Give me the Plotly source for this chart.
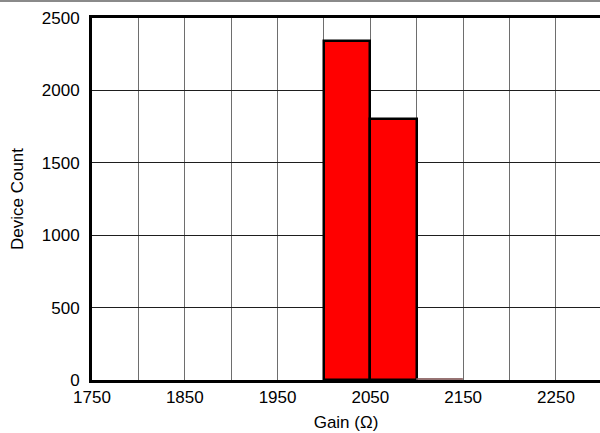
import plotly.graph_objects as go

# Histogram bins (lower edge, upper edge) and device counts
bin_lo = [2000, 2050, 2100]
bin_hi = [2050, 2100, 2150]
counts = [2340, 1800, 5]

x_tick_vals = [1750, 1800, 1850, 1900, 1950, 2000, 2050, 2100, 2150, 2200, 2250]
x_tick_text = ["1750", "", "1850", "", "1950", "", "2050", "", "2150", "", "2250"]
y_tick_vals = [0, 500, 1000, 1500, 2000, 2500]
y_tick_text = ["0", "500", "1000", "1500", "2000", "2500"]

centers = [(a + b) / 2 for a, b in zip(bin_lo, bin_hi)]
widths = [b - a for a, b in zip(bin_lo, bin_hi)]

FONT = "Liberation Sans, Arial, Helvetica, sans-serif"

fig = go.Figure()
fig.add_trace(go.Bar(
    x=centers,
    y=counts,
    width=widths,
    marker=dict(color="#ff0000",
                line=dict(color=["#000000", "#000000", "#707070"], width=[2.5, 2.5, 0.8])),
    showlegend=False,
))

fig.update_layout(
    width=600,
    height=433,
    margin=dict(l=92, r=0, t=18, b=53),
    paper_bgcolor="white",
    plot_bgcolor="white",
    font=dict(family=FONT, size=17, color="#000000"),
    bargap=0,
    xaxis=dict(
        range=[1750, 2297.5],
        tickvals=x_tick_vals,
        ticktext=x_tick_text,
        ticks="",
        showgrid=True,
        gridcolor="#6e6e6e",
        gridwidth=1,
        showline=True,
        linecolor="#000000",
        linewidth=3,
        mirror=True,
        zeroline=False,
        title=dict(text="Gain (Ω)", standoff=10, font=dict(size=17)),
    ),
    yaxis=dict(
        range=[0, 2500],
        tickvals=y_tick_vals,
        ticktext=y_tick_text,
        ticks="",
        ticklabelstandoff=6,
        showgrid=True,
        gridcolor="#1e1e1e",
        gridwidth=1,
        showline=True,
        linecolor="#000000",
        linewidth=3,
        mirror=False,
        zeroline=False,
        title=dict(text="Device Count", standoff=14, font=dict(size=17)),
    ),
    shapes=[
        # thin grey rule across the top of the page
        dict(type="line", xref="paper", yref="paper",
             x0=-92 / 508, x1=1.0, y0=1 + 17 / 362, y1=1 + 17 / 362,
             line=dict(color="#8a8a8a", width=2)),
    ],
)

fig.write_html("out.html")
